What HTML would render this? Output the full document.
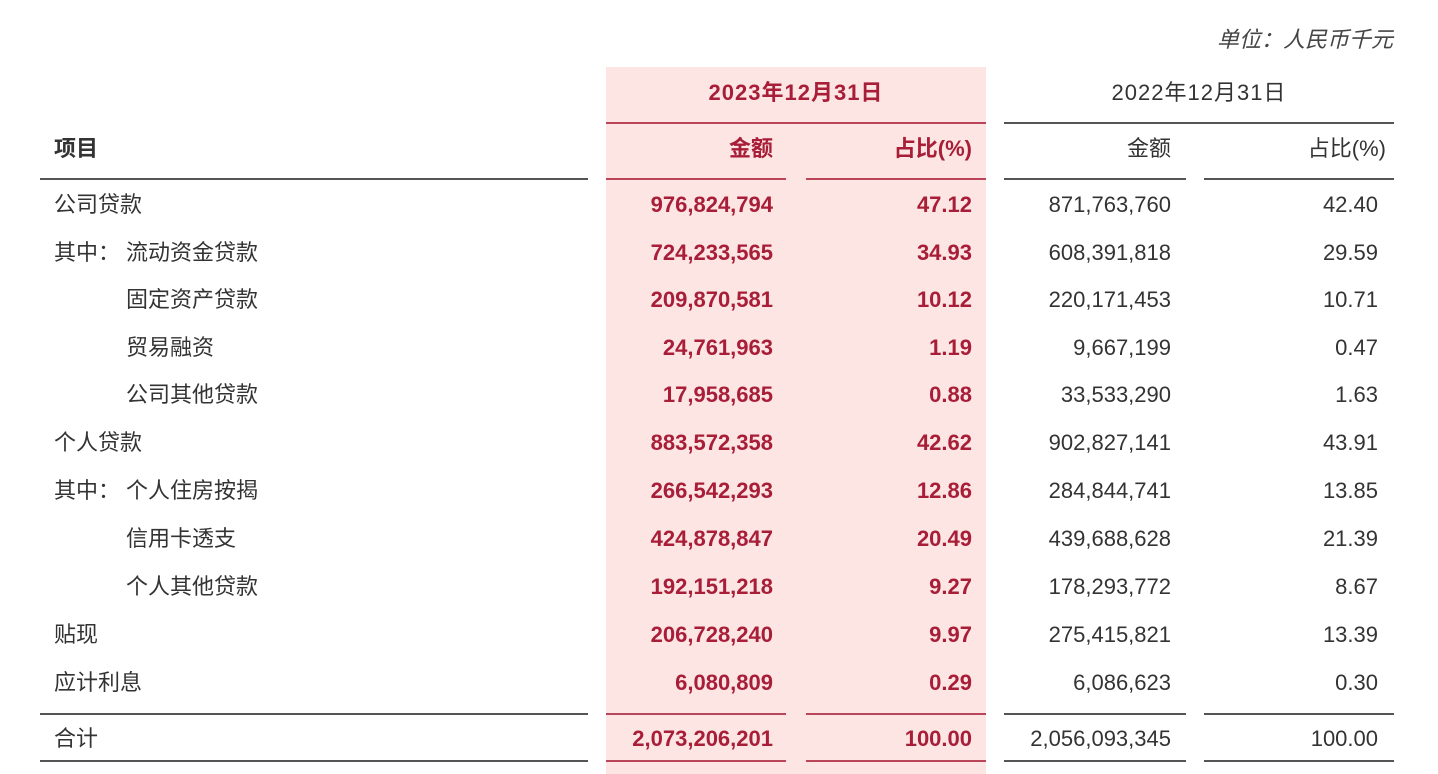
<!DOCTYPE html>
<html><head><meta charset="utf-8"><style>
body{margin:0;width:1438px;height:774px;background:#fff;position:relative;overflow:hidden;font-family:"Liberation Sans","Noto Sans CJK SC",sans-serif;color:#333;}
.a{position:absolute;font-size:22px;line-height:30px;white-space:nowrap}
.r{text-align:right}
.red{color:#a81d38;font-weight:bold}
.ln{position:absolute;height:2px;background:#555}
.rl{position:absolute;height:2px;background:#b8455a}
</style></head><body>
<div style="position:absolute;left:606px;top:67px;width:380px;height:707px;background:#fce5e2"></div>
<div class="a" style="right:45px;top:25px;font-style:italic;color:#444">单位：人民币千元</div>
<div class="a red" style="left:606px;width:380px;text-align:center;top:78px;letter-spacing:1px">2023年12月31日</div>
<div class="a" style="left:1004px;width:390px;text-align:center;top:78px;letter-spacing:1px">2022年12月31日</div>
<div class="rl" style="left:606px;width:380px;top:122px"></div>
<div class="ln" style="left:1004px;width:390px;top:122px"></div>
<div class="a" style="left:54px;top:134px;font-weight:bold">项目</div>
<div class="a red r" style="right:665px;top:134px">金额</div>
<div class="a red r" style="right:466px;top:134px">占比(%)</div>
<div class="a r" style="right:267px;top:134px">金额</div>
<div class="a r" style="right:52px;top:134px">占比(%)</div>
<div class="ln" style="left:40px;width:548px;top:178px"></div>
<div class="rl" style="left:606px;width:180px;top:178px"></div>
<div class="rl" style="left:806px;width:180px;top:178px"></div>
<div class="ln" style="left:1004px;width:182px;top:178px"></div>
<div class="ln" style="left:1204px;width:190px;top:178px"></div>
<div class="ln" style="left:40px;width:548px;top:713px"></div>
<div class="rl" style="left:606px;width:180px;top:713px"></div>
<div class="rl" style="left:806px;width:180px;top:713px"></div>
<div class="ln" style="left:1004px;width:182px;top:713px"></div>
<div class="ln" style="left:1204px;width:190px;top:713px"></div>
<div class="ln" style="left:40px;width:548px;top:760px"></div>
<div class="rl" style="left:606px;width:180px;top:760px"></div>
<div class="rl" style="left:806px;width:180px;top:760px"></div>
<div class="ln" style="left:1004px;width:182px;top:760px"></div>
<div class="ln" style="left:1204px;width:190px;top:760px"></div>

<div class="a" style="left:54px;top:190px">公司贷款</div><div class="a red r" style="right:665px;top:190px">976,824,794</div><div class="a red r" style="right:466px;top:190px">47.12</div><div class="a r" style="right:267px;top:190px">871,763,760</div><div class="a r" style="right:60px;top:190px">42.40</div>
<div class="a" style="left:54px;top:238px">其中：</div><div class="a" style="left:126px;top:238px">流动资金贷款</div><div class="a red r" style="right:665px;top:238px">724,233,565</div><div class="a red r" style="right:466px;top:238px">34.93</div><div class="a r" style="right:267px;top:238px">608,391,818</div><div class="a r" style="right:60px;top:238px">29.59</div>
<div class="a" style="left:126px;top:285px">固定资产贷款</div><div class="a red r" style="right:665px;top:285px">209,870,581</div><div class="a red r" style="right:466px;top:285px">10.12</div><div class="a r" style="right:267px;top:285px">220,171,453</div><div class="a r" style="right:60px;top:285px">10.71</div>
<div class="a" style="left:126px;top:333px">贸易融资</div><div class="a red r" style="right:665px;top:333px">24,761,963</div><div class="a red r" style="right:466px;top:333px">1.19</div><div class="a r" style="right:267px;top:333px">9,667,199</div><div class="a r" style="right:60px;top:333px">0.47</div>
<div class="a" style="left:126px;top:380px">公司其他贷款</div><div class="a red r" style="right:665px;top:380px">17,958,685</div><div class="a red r" style="right:466px;top:380px">0.88</div><div class="a r" style="right:267px;top:380px">33,533,290</div><div class="a r" style="right:60px;top:380px">1.63</div>
<div class="a" style="left:54px;top:428px">个人贷款</div><div class="a red r" style="right:665px;top:428px">883,572,358</div><div class="a red r" style="right:466px;top:428px">42.62</div><div class="a r" style="right:267px;top:428px">902,827,141</div><div class="a r" style="right:60px;top:428px">43.91</div>
<div class="a" style="left:54px;top:476px">其中：</div><div class="a" style="left:126px;top:476px">个人住房按揭</div><div class="a red r" style="right:665px;top:476px">266,542,293</div><div class="a red r" style="right:466px;top:476px">12.86</div><div class="a r" style="right:267px;top:476px">284,844,741</div><div class="a r" style="right:60px;top:476px">13.85</div>
<div class="a" style="left:126px;top:524px">信用卡透支</div><div class="a red r" style="right:665px;top:524px">424,878,847</div><div class="a red r" style="right:466px;top:524px">20.49</div><div class="a r" style="right:267px;top:524px">439,688,628</div><div class="a r" style="right:60px;top:524px">21.39</div>
<div class="a" style="left:126px;top:572px">个人其他贷款</div><div class="a red r" style="right:665px;top:572px">192,151,218</div><div class="a red r" style="right:466px;top:572px">9.27</div><div class="a r" style="right:267px;top:572px">178,293,772</div><div class="a r" style="right:60px;top:572px">8.67</div>
<div class="a" style="left:54px;top:620px">贴现</div><div class="a red r" style="right:665px;top:620px">206,728,240</div><div class="a red r" style="right:466px;top:620px">9.97</div><div class="a r" style="right:267px;top:620px">275,415,821</div><div class="a r" style="right:60px;top:620px">13.39</div>
<div class="a" style="left:54px;top:668px">应计利息</div><div class="a red r" style="right:665px;top:668px">6,080,809</div><div class="a red r" style="right:466px;top:668px">0.29</div><div class="a r" style="right:267px;top:668px">6,086,623</div><div class="a r" style="right:60px;top:668px">0.30</div>
<div class="a" style="left:54px;top:724px">合计</div><div class="a red r" style="right:665px;top:724px">2,073,206,201</div><div class="a red r" style="right:466px;top:724px">100.00</div><div class="a r" style="right:267px;top:724px">2,056,093,345</div><div class="a r" style="right:60px;top:724px">100.00</div>
</body></html>
